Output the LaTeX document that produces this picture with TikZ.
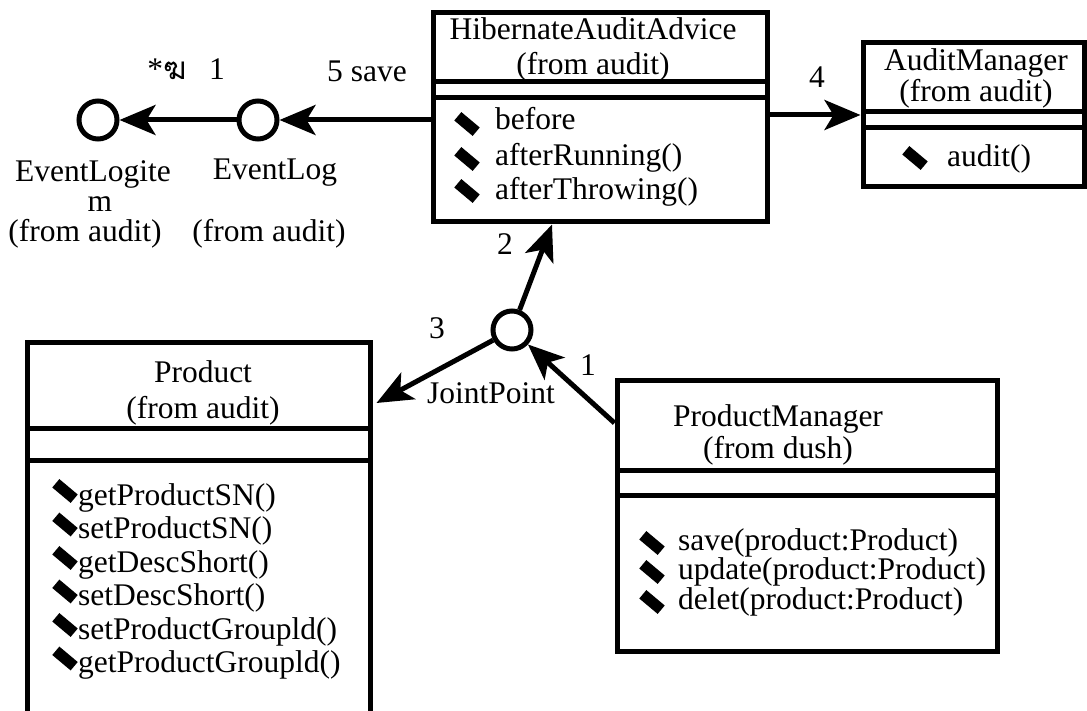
\documentclass[tikz,border=0pt]{standalone}
\usepackage{fontspec}
\setmainfont{Liberation Serif}
\newfontfamily\thaifont[Script=Thai]{Loma}
\usetikzlibrary{arrows.meta,calc}
\newcommand{\umldia}[2]{\fill[shift={(#1,#2)}, rotate=-40] (-12,-5.5) rectangle (12,5.5);}
\begin{document}
\begin{tikzpicture}[x=1pt,y=-1pt,
  umlbox/.style={draw, line width=5pt, inner sep=0pt, rectangle},
  ifc/.style={draw, circle, line width=5pt, minimum size=38pt, inner sep=0pt},
  arr/.style={line width=5pt, -{Stealth[length=36pt,width=30pt,inset=9pt]}},
  txt/.style={inner sep=0pt, font=\fontsize{31.5}{34}\selectfont},
  sep/.style={line width=5pt}]
\useasboundingbox (0,0) rectangle (1087,711);
% class boxes
\node[umlbox, minimum width=334pt, minimum height=209pt] (haa) at (600,117.5) {};
\node[umlbox, minimum width=221pt, minimum height=144pt] (am) at (973.5,115) {};
\node[umlbox, minimum width=343pt, minimum height=418pt] (prod) at (198.5,551) {};
\node[umlbox, minimum width=380pt, minimum height=271pt] (pm) at (807,515.5) {};
% interfaces
\node[ifc] (eli) at (98,120) {};
\node[ifc] (el) at (258,120) {};
\node[ifc] (jp) at (512,330) {};
% compartment lines
\draw[sep] (433,82) -- (767,82) (433,98) -- (767,98);
\draw[sep] (863,112) -- (1084,112) (863,128) -- (1084,128);
\draw[sep] (27,428) -- (370,428) (27,460) -- (370,460);
\draw[sep] (617,470) -- (997,470) (617,495) -- (997,495);
% HibernateAuditAdvice
\node[txt, anchor=base] (haat1) at (593,40) {HibernateAuditAdvice};
\node[txt, anchor=base] (haat2) at (593,75) {(from audit)};
\node[txt, anchor=base west] (haam1) at (495,130) {before};
\node[txt, anchor=base west] (haam2) at (495,166) {afterRunning()};
\node[txt, anchor=base west] (haam3) at (495,200) {afterThrowing()};
\umldia{467}{124}\umldia{467}{159}\umldia{467}{191}
% AuditManager
\node[txt, anchor=base] (amt1) at (976,71) {AuditManager};
\node[txt, anchor=base] (amt2) at (976,102) {(from audit)};
\node[txt, anchor=base west] (amm1) at (947,167) {audit()};
\umldia{915}{158}
% Product
\node[txt, anchor=base] (pt1) at (203,382) {Product};
\node[txt, anchor=base] (pt2) at (203,418) {(from audit)};
\node[txt, anchor=base west] (pm1) at (78,505) {getProductSN()};
\node[txt, anchor=base west] (pm2) at (78,538.5) {setProductSN()};
\node[txt, anchor=base west] (pm3) at (78,572) {getDescShort()};
\node[txt, anchor=base west] (pm4) at (78,605.5) {setDescShort()};
\node[txt, anchor=base west] (pm5) at (78,639) {setProductGroupld()};
\node[txt, anchor=base west] (pm6) at (78,672.5) {getProductGroupld()};
\umldia{65}{491}\umldia{65}{524.5}\umldia{65}{558}\umldia{65}{591.5}\umldia{65}{625}\umldia{65}{658.5}
% ProductManager
\node[txt, anchor=base] (pmt1) at (778,426) {ProductManager};
\node[txt, anchor=base] (pmt2) at (778,458) {(from dush)};
\node[txt, anchor=base west] (pmm1) at (678,550) {save(product:Product)};
\node[txt, anchor=base west] (pmm2) at (678,579) {update(product:Product)};
\node[txt, anchor=base west] (pmm3) at (678,609) {delet(product:Product)};
\umldia{652}{543}\umldia{652}{572}\umldia{652}{602}
% interface labels
\node[txt, anchor=base] (elit1) at (93,182) {EventLogite};
\node[txt, anchor=base] (elit2) at (100,212) {m};
\node[txt, anchor=base] (elit3) at (85,242) {(from audit)};
\node[txt, anchor=base] (elt1) at (275,180) {EventLog};
\node[txt, anchor=base] (elt2) at (269,242) {(from audit)};
\node[txt, anchor=base] (jpt) at (491,403) {JointPoint};
% connector coordinates
\coordinate (haain) at ($(haa.south)+(-48,0)$);
\coordinate (amin) at (am.west |- 0,115);
\coordinate (haaout) at (haa.east |- 0,115);
\coordinate (haael) at (haa.west |- el);
\coordinate (prodin) at ($(prod.east |- 0,403)+(4,0)$);
\coordinate (pmout) at (pm.west |- 0,423);
% connectors
\draw[arr] (haael) -- (el);
\draw[arr] (el) -- (eli);
\draw[arr] (haaout) -- (amin);
\draw[arr] (jp) -- (haain);
\draw[arr] (jp) -- (prodin);
\draw[arr] (pmout) -- (jp);
% connector labels
\node[txt, anchor=base] (l1) at (167,80) {*{\thaifont ฆ}};
\node[txt, anchor=base] (l2) at (217,80) {1};
\node[txt, anchor=base] (l3) at (367,82) {5 save};
\node[txt, anchor=base] (l4) at (817,88) {4};
\node[txt, anchor=base] (l5) at (505,255) {2};
\node[txt, anchor=base] (l6) at (437,338) {3};
\node[txt, anchor=base] (l7) at (588,375) {1};
\end{tikzpicture}
\end{document}
